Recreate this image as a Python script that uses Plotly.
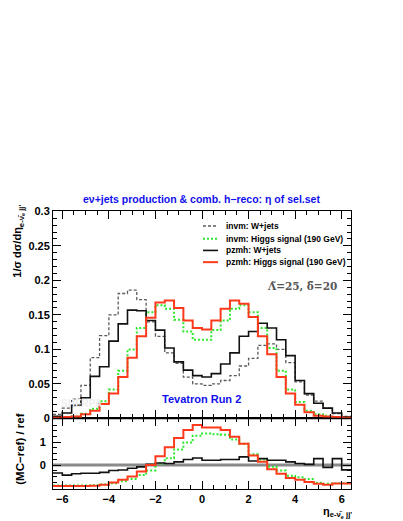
import numpy as np
import plotly.graph_objects as go

# 32 bins of width 0.4 in eta, from -6.4 to 6.4
bin_edges = np.round(np.arange(-6.4, 6.41, 0.4), 1)

invm_wjets = [0.006, 0.015, 0.028, 0.048, 0.088, 0.120, 0.150, 0.181, 0.186, 0.172,
              0.140, 0.119, 0.095, 0.080, 0.060, 0.050, 0.048, 0.050, 0.055, 0.062,
              0.076, 0.087, 0.106, 0.108, 0.100, 0.081, 0.053, 0.034, 0.025, 0.015,
              0.007, 0.003]
invm_higgs = [0.001, 0.002, 0.003, 0.007, 0.014, 0.025, 0.042, 0.069, 0.100, 0.131,
              0.154, 0.164, 0.159, 0.143, 0.126, 0.114, 0.114, 0.128, 0.142, 0.159,
              0.164, 0.154, 0.131, 0.102, 0.069, 0.042, 0.024, 0.011, 0.006, 0.004,
              0.002, 0.001]
pzmh_wjets = [0.003, 0.008, 0.019, 0.030, 0.061, 0.075, 0.112, 0.137, 0.157, 0.156,
              0.142, 0.128, 0.102, 0.082, 0.070, 0.062, 0.060, 0.065, 0.079, 0.095,
              0.119, 0.126, 0.138, 0.131, 0.114, 0.091, 0.055, 0.036, 0.022, 0.015,
              0.008, 0.002]
pzmh_higgs = [0.001, 0.002, 0.003, 0.006, 0.011, 0.021, 0.036, 0.060, 0.088, 0.119,
              0.146, 0.168, 0.171, 0.160, 0.142, 0.131, 0.129, 0.142, 0.159, 0.171,
              0.166, 0.147, 0.119, 0.093, 0.060, 0.036, 0.020, 0.009, 0.004, 0.003,
              0.002, 0.001]

# (MC - ref) / ref
ratio_invm_higgs = [-0.89, -0.89, -0.89, -0.89, -0.88, -0.85, -0.80, -0.71, -0.61, -0.44,
                    -0.24, 0.07, 0.30, 0.68, 0.99, 1.28, 1.38, 1.35, 1.33, 1.12,
                    0.93, 0.47, 0.24, -0.07, -0.24, -0.47, -0.53, -0.61, -0.78, -0.82,
                    -0.80, -0.80]
ratio_pzmh_wjets = [-0.35, -0.44, -0.38, -0.36, -0.36, -0.32, -0.24, -0.22, -0.14, -0.08,
                    0.03, 0.09, 0.07, 0.14, 0.24, 0.31, 0.21, 0.21, 0.24, 0.24,
                    0.36, 0.18, 0.28, 0.21, 0.21, 0.14, 0.07, 0.03, 0.28, -0.10,
                    0.28, -0.21]
ratio_pzmh_higgs = [-0.92, -0.92, -0.92, -0.92, -0.91, -0.86, -0.76, -0.64, -0.50, -0.28,
                    0.00, 0.39, 0.78, 1.18, 1.53, 1.75, 1.64, 1.64, 1.53, 1.24,
                    0.93, 0.42, 0.14, -0.18, -0.38, -0.57, -0.64, -0.74, -0.82, -0.86,
                    -0.81, -0.81]

legend_names = ["invm: W+jets", "invm: Higgs signal (190 GeV)",
                "pzmh: W+jets", "pzmh: Higgs signal (190 GeV)"]

GRAY = "#5a5a5a"
GREEN = "#2ee82e"
BLACK = "#111111"
RED = "#ff3a1c"
BLUE = "#1010ee"
FONT = "Liberation Sans"


def steps(vals):
    return list(vals) + [vals[-1]]


fig = go.Figure()

main = [
    (invm_wjets, dict(color=GRAY, width=1.3, dash="3px,2px")),
    (invm_higgs, dict(color=GREEN, width=2, dash="2px,2px")),
    (pzmh_wjets, dict(color=BLACK, width=1.6)),
    (pzmh_higgs, dict(color=RED, width=2)),
]
for vals, line in main:
    fig.add_trace(go.Scatter(x=bin_edges, y=steps(vals), mode="lines",
                             line_shape="hv", line=line, xaxis="x2", yaxis="y2",
                             showlegend=False, hoverinfo="skip"))

# reference line in ratio panel
fig.add_trace(go.Scatter(x=[bin_edges[0], bin_edges[-1]], y=[0, 0], mode="lines",
                         line=dict(color="#8a8a8a", width=3), xaxis="x", yaxis="y",
                         showlegend=False, hoverinfo="skip"))
ratios = [
    (ratio_invm_higgs, dict(color=GREEN, width=2, dash="2px,2px")),
    (ratio_pzmh_wjets, dict(color=BLACK, width=1.6)),
    (ratio_pzmh_higgs, dict(color=RED, width=2)),
]
for vals, line in ratios:
    fig.add_trace(go.Scatter(x=bin_edges, y=steps(vals), mode="lines",
                             line_shape="hv", line=line, xaxis="x", yaxis="y",
                             showlegend=False, hoverinfo="skip"))

xdom = [45 / 403, 343 / 403]
tickfont = dict(family=FONT, size=11, color="black", weight="bold")
common_x = dict(domain=xdom, range=[-6.4, 6.4], showline=True, linecolor="black",
                linewidth=1, mirror="ticks", ticks="inside", ticklen=8,
                tickcolor="black", dtick=2, tick0=0, zeroline=False,
                showgrid=False, tickfont=tickfont,
                minor=dict(dtick=0.5, ticks="inside", ticklen=4, tickcolor="black"))

fig.update_layout(
    width=403, height=521,
    margin=dict(l=0, r=0, t=0, b=0),
    paper_bgcolor="white", plot_bgcolor="white",
    xaxis=dict(common_x, anchor="y", showticklabels=True, ticklabelstandoff=0),
    yaxis=dict(domain=[35 / 521, 107 / 521], range=[-1.04, 2.04], anchor="x",
               showline=True, linecolor="black", mirror="ticks", ticks="inside",
               ticklen=8, tickcolor="black", tickvals=[0, 1], zeroline=False,
               showgrid=False, tickfont=tickfont, ticklabelstandoff=4,
               minor=dict(dtick=0.25, ticks="inside", ticklen=4, tickcolor="black")),
    xaxis2=dict(common_x, anchor="y2", showticklabels=False, matches="x"),
    yaxis2=dict(domain=[107 / 521, 319 / 521], range=[0, 0.3], anchor="x2",
                showline=True, linecolor="black", mirror="ticks", ticks="inside",
                ticklen=8, tickcolor="black", dtick=0.05, tick0=0, zeroline=False,
                showgrid=False, tickfont=tickfont, tickformat="~g",
                minor=dict(dtick=0.01, ticks="inside", ticklen=4, tickcolor="black")),
)

# black line at the bottom of the main panel
fig.add_shape(type="line", xref="paper", yref="paper", x0=xdom[0], x1=xdom[1],
              y0=107 / 521, y1=107 / 521, line=dict(color="black", width=1.5))

# legend drawn by hand
legend_styles = [main[i][1] for i in range(4)]
legend_y = [217, 230, 242, 254]
for name, line, yp in zip(legend_names, legend_styles, legend_y):
    fig.add_shape(type="line", xref="paper", yref="paper",
                  x0=195 / 403, x1=210 / 403, y0=1 - yp / 521, y1=1 - yp / 521,
                  line=line)
    fig.add_annotation(text=name, xref="paper", yref="paper", x=216 / 403,
                       y=1 - yp / 521, xanchor="left", yanchor="middle",
                       showarrow=False,
                       font=dict(family=FONT, size=8.5, color="black", weight="bold"))

texts = [
    ("eν+jets production & comb. h−reco: η of sel.set", 193, 189, "center",
     dict(family=FONT, size=10.5, color=BLUE, weight="bold"), 0),
    ("Λ̃=25, δ̃=20", 294, 278, "center",
     dict(family="DejaVu Serif", size=10.5, color="#555555", weight="bold"), 0),
    ("Tevatron Run 2", 193, 394, "center",
     dict(family=FONT, size=11, color=BLUE, weight="bold"), 0),
    ("SHERPA", 73, 399, "center",
     dict(family=FONT, size=10, color="#eeeeee", weight="bold"), 0),
    ("η<sub>e-ν̄<sub>e</sub> jj'</sub>", 346, 510, "right",
     dict(family=FONT, size=11, color="black", weight="bold"), 0),
    ("1/σ dσ/dη<sub>e-ν̄<sub>e</sub> jj'</sub>", 11, 233, "center",
     dict(family=FONT, size=11, color="black", weight="bold"), -90),
    ("(MC−ref) / ref", 12, 446, "center",
     dict(family=FONT, size=11.5, color="black", weight="bold"), -90),
]
for txt, xp, yp, anchor, font, angle in texts:
    fig.add_annotation(text=txt, xref="paper", yref="paper", x=xp / 403,
                       y=1 - yp / 521, xanchor=anchor, yanchor="middle",
                       showarrow=False, font=font, textangle=angle)

fig.write_html("out.html")
